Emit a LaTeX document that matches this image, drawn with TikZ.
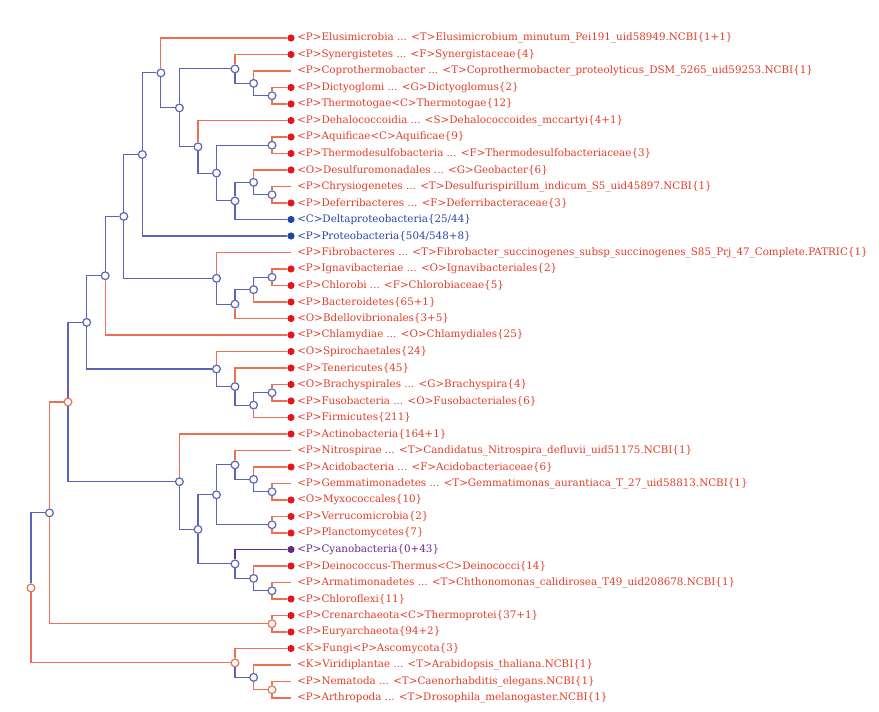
\documentclass[tikz,border=0pt]{standalone}
\usepackage{fontspec}
\newfontfamily\lblfont{DejaVu Serif}
\definecolor{textred}{RGB}{225,60,40}
\definecolor{linered}{RGB}{236,112,82}
\definecolor{dotred}{RGB}{228,22,28}
\definecolor{lineblue}{RGB}{92,100,182}
\definecolor{dotblue}{RGB}{30,70,170}
\definecolor{textblue}{RGB}{40,70,165}
\definecolor{dotpurple}{RGB}{105,40,140}
\tikzset{
  bnode/.style={circle, draw=lineblue, fill=white, line width=0.9pt, inner sep=0pt, minimum size=5.8pt},
  rnode/.style={circle, draw=linered, fill=white, line width=0.9pt, inner sep=0pt, minimum size=5.8pt},
  rdot/.style={circle, fill=dotred, inner sep=0pt, minimum size=5.4pt},
  bdot/.style={circle, fill=dotblue, inner sep=0pt, minimum size=5.4pt},
  pdot/.style={circle, fill=dotpurple, inner sep=0pt, minimum size=5.4pt},
  lbl/.style={anchor=west, inner sep=0pt, text=textred, font=\lblfont\fontsize{7.75pt}{9pt}\selectfont},
  eb/.style={draw=lineblue, line width=0.85pt},
  er/.style={draw=linered, line width=0.85pt},
  ep/.style={draw=dotpurple, line width=0.85pt},
}
\newcommand\dleaf[4]{\node[#3] (l#1) at (291,#2) {};\node[lbl] (t#1) at (297,#2) {#4};}
\newcommand\nleaf[3]{\coordinate (l#1) at (291,#2);\node[lbl] (t#1) at (297,#2) {#3};}
\begin{document}
\begin{tikzpicture}[x=0.75pt,y=-0.75pt]
\path[use as bounding box] (0,0) rectangle (879,712);
% leaves
\dleaf{1}{38}{rdot}{<P>Elusimicrobia ... <T>Elusimicrobium\_minutum\_Pei191\_uid58949.NCBI\{1+1\}}
\dleaf{2}{54.5}{rdot}{<P>Synergistetes ... <F>Synergistaceae\{4\}}
\nleaf{3}{71}{<P>Coprothermobacter ... <T>Coprothermobacter\_proteolyticus\_DSM\_5265\_uid59253.NCBI\{1\}}
\dleaf{4}{87.5}{rdot}{<P>Dictyoglomi ... <G>Dictyoglomus\{2\}}
\dleaf{5}{104}{rdot}{<P>Thermotogae<C>Thermotogae\{12\}}
\dleaf{6}{120.5}{rdot}{<P>Dehalococcoidia ... <S>Dehalococcoides\_mccartyi\{4+1\}}
\dleaf{7}{137}{rdot}{<P>Aquificae<C>Aquificae\{9\}}
\dleaf{8}{153.5}{rdot}{<P>Thermodesulfobacteria ... <F>Thermodesulfobacteriaceae\{3\}}
\dleaf{9}{170}{rdot}{<O>Desulfuromonadales ... <G>Geobacter\{6\}}
\nleaf{10}{186.5}{<P>Chrysiogenetes ... <T>Desulfurispirillum\_indicum\_S5\_uid45897.NCBI\{1\}}
\dleaf{11}{203}{rdot}{<P>Deferribacteres ... <F>Deferribacteraceae\{3\}}
\node[bdot] (l12) at (291,219.5) {};\node[lbl,text=textblue] (t12) at (297,219.5) {<C>Deltaproteobacteria\{25/44\}};
\node[bdot] (l13) at (291,236) {};\node[lbl,text=textblue] (t13) at (297,236) {<P>Proteobacteria\{504/548+8\}};
\nleaf{14}{252.5}{<P>Fibrobacteres ... <T>Fibrobacter\_succinogenes\_subsp\_succinogenes\_S85\_Prj\_47\_Complete.PATRIC\{1\}}
\dleaf{15}{269}{rdot}{<P>Ignavibacteriae ... <O>Ignavibacteriales\{2\}}
\dleaf{16}{285.5}{rdot}{<P>Chlorobi ... <F>Chlorobiaceae\{5\}}
\dleaf{17}{302}{rdot}{<P>Bacteroidetes\{65+1\}}
\dleaf{18}{318.5}{rdot}{<O>Bdellovibrionales\{3+5\}}
\dleaf{19}{335}{rdot}{<P>Chlamydiae ... <O>Chlamydiales\{25\}}
\dleaf{20}{351.5}{rdot}{<O>Spirochaetales\{24\}}
\dleaf{21}{368}{rdot}{<P>Tenericutes\{45\}}
\dleaf{22}{384.5}{rdot}{<O>Brachyspirales ... <G>Brachyspira\{4\}}
\dleaf{23}{401}{rdot}{<P>Fusobacteria ... <O>Fusobacteriales\{6\}}
\dleaf{24}{417.5}{rdot}{<P>Firmicutes\{211\}}
\dleaf{25}{434}{rdot}{<P>Actinobacteria\{164+1\}}
\nleaf{26}{450.5}{<P>Nitrospirae ... <T>Candidatus\_Nitrospira\_defluvii\_uid51175.NCBI\{1\}}
\dleaf{27}{467}{rdot}{<P>Acidobacteria ... <F>Acidobacteriaceae\{6\}}
\nleaf{28}{483.5}{<P>Gemmatimonadetes ... <T>Gemmatimonas\_aurantiaca\_T\_27\_uid58813.NCBI\{1\}}
\dleaf{29}{500}{rdot}{<O>Myxococcales\{10\}}
\dleaf{30}{516.5}{rdot}{<P>Verrucomicrobia\{2\}}
\dleaf{31}{533}{rdot}{<P>Planctomycetes\{7\}}
\node[pdot] (l32) at (291,549.5) {};\node[lbl,text=dotpurple] (t32) at (297,549.5) {<P>Cyanobacteria\{0+43\}};
\dleaf{33}{566}{rdot}{<P>Deinococcus-Thermus<C>Deinococci\{14\}}
\nleaf{34}{582.5}{<P>Armatimonadetes ... <T>Chthonomonas\_calidirosea\_T49\_uid208678.NCBI\{1\}}
\dleaf{35}{599}{rdot}{<P>Chloroflexi\{11\}}
\dleaf{36}{615.5}{rdot}{<P>Crenarchaeota<C>Thermoprotei\{37+1\}}
\dleaf{37}{632}{rdot}{<P>Euryarchaeota\{94+2\}}
\dleaf{38}{648.5}{rdot}{<K>Fungi<P>Ascomycota\{3\}}
\nleaf{39}{665}{<K>Viridiplantae ... <T>Arabidopsis\_thaliana.NCBI\{1\}}
\nleaf{40}{681.5}{<P>Nematoda ... <T>Caenorhabditis\_elegans.NCBI\{1\}}
\nleaf{41}{698}{<P>Arthropoda ... <T>Drosophila\_melanogaster.NCBI\{1\}}
% internal nodes
\node[rnode] (root) at (31,587.9) {};
\node[bnode] (z) at (49.5,512.9) {};
\node[rnode] (x) at (68,402.0) {};
\node[bnode] (s) at (86.7,322.4) {};
\node[bnode] (r) at (105.2,275.7) {};
\node[bnode] (m) at (123.8,216.4) {};
\node[bnode] (c) at (142.3,154.5) {};
\node[bnode] (a) at (160.9,72.9) {};
\node[bnode] (b) at (179.4,107.9) {};
\node[bnode] (d) at (235,68.9) {};
\node[bnode] (f) at (253.6,83.4) {};
\node[bnode] (g) at (272,95.75) {};
\node[bnode] (e) at (198,146.8) {};
\node[bnode] (h) at (216.5,173.1) {};
\node[bnode] (i) at (272,145.25) {};
\node[bnode] (j) at (235,200.9) {};
\node[bnode] (k) at (253.6,182.4) {};
\node[bnode] (l) at (272,194.75) {};
\node[bnode] (n) at (216.5,278.3) {};
\node[bnode] (o) at (235,304.1) {};
\node[bnode] (p) at (253.6,289.6) {};
\node[bnode] (q) at (272,277.25) {};
\node[bnode] (t) at (216.5,369.0) {};
\node[bnode] (u) at (235,386.6) {};
\node[bnode] (v) at (253.6,405.1) {};
\node[bnode] (w) at (272,392.75) {};
\node[bnode] (y) at (179.4,481.7) {};
\node[bnode] (aa) at (198,529.4) {};
\node[bnode] (ab) at (216.5,494.8) {};
\node[bnode] (ad) at (235,464.9) {};
\node[bnode] (af) at (253.6,479.4) {};
\node[bnode] (ag) at (272,491.75) {};
\node[bnode] (ae) at (272,524.75) {};
\node[bnode] (ac) at (235,563.9) {};
\node[bnode] (ah) at (253.6,578.4) {};
\node[bnode] (ai) at (272,590.75) {};
\node[rnode] (arch) at (272,623.75) {};
\node[rnode] (euk) at (235,662.9) {};
\node[bnode] (aj) at (253.6,677.4) {};
\node[rnode] (ak) at (272,689.75) {};
% edges
\draw[eb] (root) |- (z);
\draw[er] (root) |- (euk);
\draw[er] (z) |- (x);
\draw[er] (z) |- (arch);
\draw[eb] (x) |- (s);
\draw[eb] (x) |- (y);
\draw[eb] (s) |- (r);
\draw[eb] (s) |- (t);
\draw[eb] (r) |- (m);
\draw[er] (r) |- (l19);
\draw[eb] (m) |- (c);
\draw[eb] (m) |- (n);
\draw[eb] (c) |- (a);
\draw[eb] (c) |- (l13);
\draw[er] (a) |- (l1);
\draw[eb] (a) |- (b);
\draw[eb] (b) |- (d);
\draw[eb] (b) |- (e);
\draw[er] (d) |- (l2);
\draw[eb] (d) |- (f);
\draw[er] (f) |- (l3);
\draw[eb] (f) |- (g);
\draw[er] (g) |- (l4);
\draw[er] (g) |- (l5);
\draw[er] (e) |- (l6);
\draw[eb] (e) |- (h);
\draw[eb] (h) |- (i);
\draw[eb] (h) |- (j);
\draw[er] (i) |- (l7);
\draw[er] (i) |- (l8);
\draw[eb] (j) |- (k);
\draw[eb] (j) |- (l12);
\draw[er] (k) |- (l9);
\draw[eb] (k) |- (l);
\draw[er] (l) |- (l10);
\draw[er] (l) |- (l11);
\draw[er] (n) |- (l14);
\draw[eb] (n) |- (o);
\draw[eb] (o) |- (p);
\draw[er] (o) |- (l18);
\draw[eb] (p) |- (q);
\draw[er] (p) |- (l17);
\draw[er] (q) |- (l15);
\draw[er] (q) |- (l16);
\draw[er] (t) |- (l20);
\draw[eb] (t) |- (u);
\draw[er] (u) |- (l21);
\draw[eb] (u) |- (v);
\draw[eb] (v) |- (w);
\draw[er] (v) |- (l24);
\draw[er] (w) |- (l22);
\draw[er] (w) |- (l23);
\draw[er] (y) |- (l25);
\draw[eb] (y) |- (aa);
\draw[eb] (aa) |- (ab);
\draw[eb] (aa) |- (ac);
\draw[eb] (ab) |- (ad);
\draw[eb] (ab) |- (ae);
\draw[er] (ad) |- (l26);
\draw[eb] (ad) |- (af);
\draw[er] (af) |- (l27);
\draw[eb] (af) |- (ag);
\draw[er] (ag) |- (l28);
\draw[er] (ag) |- (l29);
\draw[er] (ae) |- (l30);
\draw[er] (ae) |- (l31);
\draw[ep] (ac) |- (l32);
\draw[eb] (ac) |- (ah);
\draw[er] (ah) |- (l33);
\draw[eb] (ah) |- (ai);
\draw[er] (ai) |- (l34);
\draw[er] (ai) |- (l35);
\draw[er] (arch) |- (l36);
\draw[er] (arch) |- (l37);
\draw[er] (euk) |- (l38);
\draw[eb] (euk) |- (aj);
\draw[er] (aj) |- (l39);
\draw[er] (aj) |- (ak);
\draw[er] (ak) |- (l40);
\draw[er] (ak) |- (l41);
\end{tikzpicture}
\end{document}
